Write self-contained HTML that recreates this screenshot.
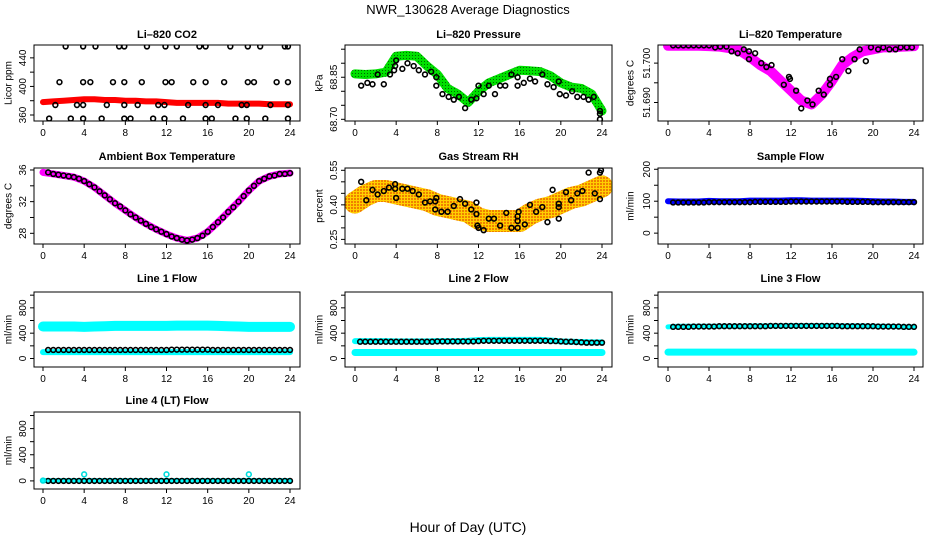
<!DOCTYPE html>
<html><head><meta charset="utf-8"><style>
html,body{margin:0;padding:0;background:#fff;}
svg{display:block;font-family:"Liberation Sans",sans-serif;}
</style></head><body>
<svg id="c" width="936" height="540" viewBox="0 0 936 540">
<defs>
<pattern id="rhpat" width="3" height="3" patternUnits="userSpaceOnUse"><rect width="3" height="3" fill="#ffd000"/><rect width="2" height="2" fill="#f08000"/></pattern>
<pattern id="grpat" width="3" height="3" patternUnits="userSpaceOnUse"><rect width="3" height="3" fill="#00e000"/><rect x="1" y="1" width="1" height="1" fill="#006600"/></pattern>
</defs>
<text x="468" y="14" text-anchor="middle" font-size="13">NWR_130628  Average Diagnostics</text>
<text x="468" y="532" text-anchor="middle" font-size="14">Hour of Day (UTC)</text>
</svg>
<script>
const HOURS=[0,1,2,3,4,5,6,7,8,9,10,11,12,13,14,15,16,17,18,19,20,21,22,23,24];
const HALF=[0.5,1,1.5,2,2.5,3,3.5,4,4.5,5,5.5,6,6.5,7,7.5,8,8.5,9,9.5,10,10.5,11,11.5,12,12.5,13,13.5,14,14.5,15,15.5,16,16.5,17,17.5,18,18.5,19,19.5,20,20.5,21,21.5,22,22.5,23,23.5,24];
const X_TICKS=[0,4,8,12,16,20,24];

const co2Band=[378,379,380,381,382,382,381,381,380,380,379,379,378,377,377,377,377,377,376,376,376,376,375,375,375];
const co2CircX=[2.2,3.9,5.1,7.4,7.9,10.1,11.9,13.0,15.2,15.8,18.2,19.9,21.1,23.5,23.8,1.6,3.9,4.6,6.8,7.9,9.6,11.9,12.5,14.6,15.8,17.6,19.9,20.5,22.7,23.8,1.2,3.3,3.9,6.2,7.9,9.2,11.2,11.8,14.1,15.8,17.0,19.3,19.8,22.1,23.8,0.6,2.7,3.9,5.7,7.9,8.5,10.7,11.8,13.6,15.8,16.4,18.7,19.8,21.6,23.8];
const co2CircY=[456,456,456,456,456,456,456,456,456,456,456,456,456,456,456,406,406,406,406,406,406,406,406,406,406,406,406,406,406,406,374,374,374,374,374,374,374,374,374,374,374,374,374,374,374,355,355,355,355,355,355,355,355,355,355,355,355,355,355,355];

const presBand=[68.862,68.86,68.862,68.868,68.925,68.928,68.925,68.89,68.86,68.81,68.79,68.76,68.80,68.83,68.845,68.86,68.875,68.873,68.87,68.855,68.83,68.815,68.81,68.79,68.73];
const presCircX=[0.6,1.2,1.7,2.2,2.8,3.4,3.8,3.9,4.0,4.6,5.1,5.7,6.2,6.8,7.4,7.9,7.9,8.5,9.1,9.6,10.1,10.7,11.3,11.8,12.0,12.5,13.0,13.6,14.1,14.6,15.2,15.8,15.8,16.4,17.0,17.5,18.2,18.7,19.3,19.8,19.9,20.5,21.1,21.6,22.2,22.7,23.2,23.8,23.8,23.8];
const presCircY=[68.82,68.83,68.825,68.86,68.825,68.86,68.875,68.89,68.91,68.88,68.90,68.89,68.875,68.86,68.87,68.85,68.82,68.79,68.78,68.77,68.78,68.74,68.77,68.775,68.82,68.79,68.82,68.79,68.82,68.82,68.86,68.85,68.82,68.83,68.845,68.835,68.86,68.825,68.815,68.835,68.79,68.785,68.80,68.78,68.78,68.77,68.78,68.73,68.72,68.70];

const tempBand=[51.7044,51.7044,51.7044,51.7044,51.7043,51.7042,51.7038,51.7032,51.7015,51.6995,51.698,51.6955,51.693,51.6905,51.6895,51.692,51.6955,51.6995,51.7015,51.703,51.7035,51.704,51.704,51.7042,51.7043];
const tempCircX=[0.5,1,1.5,2,2.5,3,3.5,4,4.6,5.1,5.7,6.2,6.8,7.4,7.9,7.9,8.5,9.1,9.6,10.1,11.3,11.8,11.9,12.5,13.0,13.6,14.1,14.7,15.2,15.8,15.8,16.4,17.0,17.6,18.2,18.7,19.3,19.8,20.5,21.0,21.6,22.2,22.7,23.3,23.8];
const tempCircY=[51.7045,51.7045,51.7045,51.7045,51.7045,51.7045,51.7045,51.7045,51.704,51.7042,51.7042,51.703,51.7025,51.7035,51.703,51.701,51.7025,51.700,51.699,51.6995,51.6945,51.6965,51.696,51.693,51.6885,51.6905,51.6895,51.693,51.692,51.6945,51.696,51.6965,51.701,51.698,51.701,51.7035,51.7005,51.704,51.7035,51.704,51.7035,51.7035,51.704,51.704,51.704];

const ambBand=[35.7,35.5,35.3,35.1,34.6,33.8,32.8,31.8,30.9,30.0,29.2,28.5,27.9,27.4,27.1,27.4,28.2,29.4,30.7,32.0,33.4,34.6,35.2,35.5,35.6];
const ambCirc=[35.7,35.5,35.4,35.3,35.2,35.1,34.9,34.6,34.2,33.8,33.3,32.8,32.3,31.8,31.4,30.9,30.4,30.0,29.6,29.2,28.8,28.5,28.2,27.9,27.6,27.4,27.2,27.1,27.2,27.4,27.7,28.2,28.8,29.4,30.0,30.7,31.3,32.0,32.7,33.4,34.0,34.6,34.9,35.2,35.3,35.5,35.5,35.6];

const rhBand=[0.41,0.44,0.46,0.46,0.45,0.44,0.43,0.42,0.40,0.39,0.38,0.37,0.34,0.33,0.33,0.33,0.33,0.36,0.38,0.39,0.41,0.43,0.44,0.46,0.48];
const rhCircX=[0.6,1.1,1.7,2.2,2.8,3.3,3.9,3.9,4.0,4.6,5.1,5.6,6.2,6.8,7.3,7.8,7.9,7.8,8.4,9.0,9.6,10.2,10.7,11.3,11.8,11.8,11.9,12.0,12.5,13.0,13.5,14.1,14.7,15.2,15.8,15.8,15.9,15.8,16.5,17.0,17.6,18.2,18.7,19.2,19.8,19.8,19.8,20.5,21.0,21.6,22.1,22.7,23.3,23.8,23.8,23.9];
const rhCircY=[0.50,0.42,0.465,0.445,0.46,0.475,0.49,0.47,0.43,0.47,0.47,0.46,0.445,0.41,0.415,0.415,0.43,0.38,0.37,0.37,0.395,0.425,0.405,0.38,0.41,0.36,0.31,0.30,0.29,0.34,0.34,0.31,0.365,0.30,0.35,0.33,0.37,0.30,0.315,0.40,0.37,0.39,0.325,0.465,0.405,0.39,0.34,0.455,0.42,0.45,0.46,0.54,0.45,0.425,0.54,0.55];

const sampBand=[100,99,99,99,101,100,100,100,102,102,102,102,103,103,102,102,102,102,102,101,100,99,99,98,98];
const sampCirc=[96,96,96,96,96,96,96,97,97,97,97,97,97,97,97,97,98,98,98,98,98,98,98,99,99,99,99,99,99,99,99,99,99,99,98,98,98,98,98,97,97,97,97,97,97,97,97,97];

const l1High=[505,505,505,505,500,505,510,515,515,515,515,515,515,520,520,520,520,515,510,505,500,500,500,500,500];
const l1Low=[100,100,100,100,100,100,100,100,100,100,100,100,100,100,100,100,100,100,100,100,100,100,100,100,100];
const l1Circ=[135,135,135,135,135,135,135,135,135,135,135,135,135,135,135,135,135,135,135,135,135,135,135,135,140,140,140,140,140,140,140,140,135,135,135,135,135,135,135,135,135,135,135,135,135,135,135,135];

const l2High=[275,275,275,275,270,270,270,270,275,275,275,280,290,295,295,295,295,295,295,285,270,265,260,255,255];
const l2Low=[95,95,95,95,95,95,95,95,95,95,95,95,95,95,95,95,95,95,95,95,95,95,95,95,95];
const l2Circ=[265,265,265,265,265,265,265,265,265,265,265,265,265,265,265,270,270,270,270,270,270,270,270,275,280,280,280,280,280,280,280,280,280,280,280,280,280,275,275,270,265,265,260,255,250,250,250,250];

const l3High=[500,510,510,510,510,510,510,510,515,515,515,515,520,520,520,520,520,515,515,515,510,510,505,500,500];
const l3Low=[100,100,100,100,100,100,100,100,100,100,100,100,100,100,100,100,100,100,100,100,100,100,100,100,100];
const l3Circ=[500,500,500,500,505,505,505,505,505,510,510,510,510,510,510,510,510,510,510,515,515,515,515,515,515,515,515,515,515,515,515,515,515,510,510,510,510,510,510,510,505,505,505,505,505,500,500,500];

const l4Band=[5,5,5,5,5,5,5,5,5,5,5,5,5,5,5,5,5,5,5,5,5,5,5,5,5];
const l4Circ=[0,0,0,0,0,0,0,0,0,0,0,0,0,0,0,0,0,0,0,0,0,0,0,0,0,0,0,0,0,0,0,0,0,0,0,0,0,0,0,0,0,0,0,0,0,0,0,0];
const l4OutX=[0,4,12,20];
const l4OutY=[5,100,100,100];

const NS='http://www.w3.org/2000/svg';
const svg=document.getElementById('c');
const COLS=[{z:43,r24:290,L:34,R:300,lab:9},{z:355,r24:602,L:345,R:612,lab:320},{z:668,r24:914,L:658,R:923,lab:631}];
const ROWS=[{T:45,B:121,tt:38},{T:168,B:244,tt:160},{T:292,B:367,tt:282},{T:412,B:489,tt:404}];
function el(tag,attrs,parent){const e=document.createElementNS(NS,tag);for(const k in attrs)e.setAttribute(k,attrs[k]);(parent||svg).appendChild(e);return e;}

function panel(ci,ri,title,ylab,ylim,ticks,labels,key){
  const c=COLS[ci],r=ROWS[ri];
  const g=el('g',{});
  
  
  const xs=h=>c.z+(c.r24-c.z)*h/24;
  const ys=v=>r.B-(v-ylim[0])/(ylim[1]-ylim[0])*(r.B-r.T);
  const t=el('text',{x:(c.L+c.R)/2,y:r.tt,'text-anchor':'middle','font-size':11,'font-weight':'bold'},g);
  t.textContent=title;
  
  
  const yl=el('text',{x:c.lab,y:(r.T+r.B)/2,'text-anchor':'middle','font-size':10,transform:`rotate(-90 ${c.lab} ${(r.T+r.B)/2})`,'dominant-baseline':'middle'},g);
  yl.textContent=ylab;
  
  
  const clip=el('clipPath',{id:'cl'+key},g);
  el('rect',{x:c.L,y:r.T,width:c.R-c.L,height:r.B-r.T},clip);
  const plot=el('g',{'clip-path':`url(#cl${key})`},g);
  
  
  const fr=el('rect',{x:c.L,y:r.T,width:c.R-c.L,height:r.B-r.T,fill:'none',stroke:'#000','stroke-width':1},g);
  
  
  X_TICKS.forEach(h=>{
    const x=xs(h);
    el('line',{x1:x,x2:x,y1:r.B,y2:r.B+4,stroke:'#000'},g);
    const tx=el('text',{x:x,y:r.B+15,'text-anchor':'middle','font-size':10},g);
    tx.textContent=h;
    
    
  });
  ticks.forEach(v=>{
    const y=ys(v);
    el('line',{x1:c.L-4,x2:c.L,y1:y,y2:y,stroke:'#000'},g);
  });
  labels.forEach(v=>{
    const y=ys(v),lx=c.L-8;
    const tl=el('text',{x:lx,y:y,'text-anchor':'middle','font-size':10,transform:`rotate(-90 ${lx} ${y})`},g);
    tl.textContent=typeof v==='number'&&ylim[1]-ylim[0]<1?v.toFixed(ylim[1]-ylim[0]<0.1?3:2):v;
    
    
  });
  return {plot,xs,ys};
}
function band(p,xsArr,ysArr,color,w,name){
  const pts=xsArr.map((h,i)=>p.xs(h)+','+p.ys(ysArr[i])).join(' ');
  const pl=el('polyline',{points:pts,fill:'none',stroke:color,'stroke-width':w,'stroke-linejoin':'round','stroke-linecap':'round'},p.plot);
  
  
}
function circles(p,xsArr,ysArr,color,name){
  xsArr.forEach((h,i)=>{
    const ci=el('circle',{cx:p.xs(h),cy:p.ys(ysArr[i]),r:2.4,fill:'none',stroke:color,'stroke-width':1.6},p.plot);
    
    
  });
}

let p;
p=panel(0,0,'Li–820 CO2','Licor ppm',[351.6,458],[360,380,400,420,440],[360,400,440],'co2');
band(p,HOURS,co2Band,'#ff0000',6,'co2-band');circles(p,co2CircX,co2CircY,'#000','co2-point');
p=panel(1,0,'Li–820 Pressure','kPa',[68.694,68.965],[68.70,68.75,68.80,68.85,68.90,68.95],[68.70,68.85],'pressure');
band(p,HOURS,presBand,'url(#grpat)',9,'pressure-band');circles(p,presCircX,presCircY,'#000','pressure-point');
p=panel(2,0,'Li–820 Temperature','degrees C',[51.6853,51.7046],[51.690,51.695,51.700],[51.690,51.700],'temperature');
band(p,HOURS,tempBand,'#ff00ff',10,'temperature-band');circles(p,tempCircX,tempCircY,'#000','temperature-point');
p=panel(0,1,'Ambient Box Temperature','degrees C',[26.65,36.25],[28,30,32,34,36],[28,32,36],'ambient');
band(p,HOURS,ambBand,'#ff00ff',7,'ambient-band');circles(p,HALF,ambCirc,'#000','ambient-point');
p=panel(1,1,'Gas Stream RH','percent',[0.23,0.56],[0.25,0.30,0.35,0.40,0.45,0.50,0.55],[0.25,0.40,0.55],'rh');
band(p,HOURS,rhBand,'url(#rhpat)',22,'rh-band');circles(p,rhCircX,rhCircY,'#000','rh-point');
p=panel(2,1,'Sample Flow','ml/min',[-34,204],[0,50,100,150,200],[0,100,200],'sample-flow');
band(p,HOURS,sampBand,'#0000ff',6,'sample-flow-band');circles(p,HALF,sampCirc,'#000','sample-flow-point');
const FT=[0,200,400,600,800,1000],FL=[0,400,800];
p=panel(0,2,'Line 1 Flow','ml/min',[-134,1050],FT,FL,'line1');
band(p,HOURS,l1High,'#00ffff',10,'line1-high-band');band(p,HOURS,l1Low,'#00ffff',6,'line1-low-band');circles(p,HALF,l1Circ,'#000','line1-point');
p=panel(1,2,'Line 2 Flow','ml/min',[-134,1050],FT,FL,'line2');
band(p,HOURS,l2High,'#00ffff',6,'line2-high-band');band(p,HOURS,l2Low,'#00ffff',7,'line2-low-band');circles(p,HALF,l2Circ,'#000','line2-point');
p=panel(2,2,'Line 3 Flow','ml/min',[-134,1050],FT,FL,'line3');
band(p,HOURS,l3High,'#00ffff',5,'line3-high-band');band(p,HOURS,l3Low,'#00ffff',7,'line3-low-band');circles(p,HALF,l3Circ,'#000','line3-point');
p=panel(0,3,'Line 4 (LT) Flow','ml/min',[-124,1054],FT,FL,'line4');
band(p,HOURS,l4Band,'#00ffff',5,'line4-band');circles(p,HALF,l4Circ,'#000','line4-point');circles(p,l4OutX,l4OutY,'#00dddd','line4-outlier');
</script>
</body></html>
